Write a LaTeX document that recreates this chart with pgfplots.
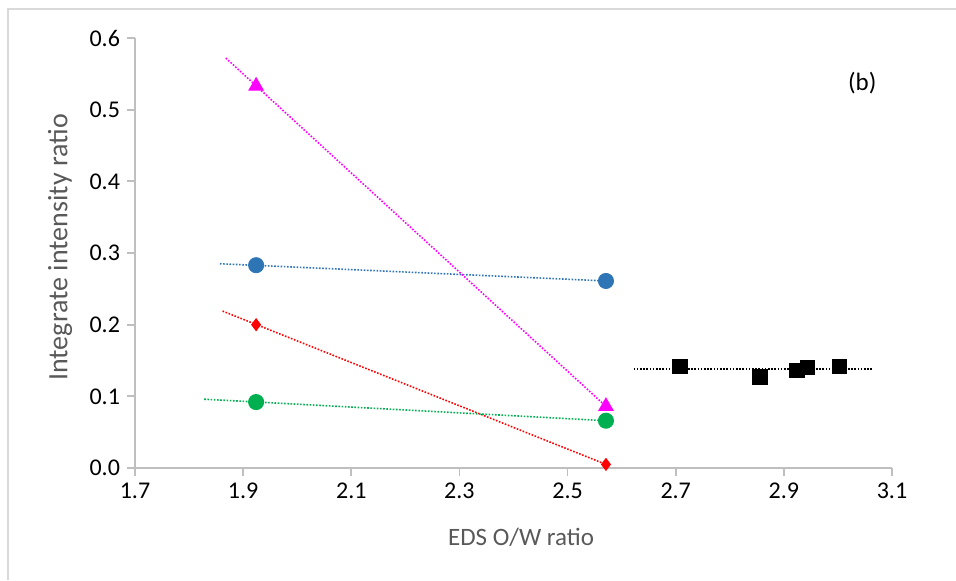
\documentclass[border=0pt]{standalone}
\usepackage{pgfplots}
\pgfplotsset{compat=1.18}
\usepackage{fontspec}
\setmainfont{Carlito}
\definecolor{axgray}{HTML}{BFBFBF}
\definecolor{labgray}{HTML}{595959}
\definecolor{framegray}{HTML}{D9D9D9}
\definecolor{exblue}{HTML}{2E75B6}
\definecolor{exgreen}{HTML}{00B050}
\definecolor{exmag}{HTML}{FF00FF}
\definecolor{exred}{HTML}{FF0000}
\begin{document}
\begin{tikzpicture}
\useasboundingbox (-67.5pt,-56pt) rectangle (410.5pt,234pt);
\draw[framegray, line width=1pt] (-63.5pt,-56pt) -- (-63.5pt,229.5pt) -- (410.5pt,229.5pt);
\begin{axis}[
  at={(0,0)}, anchor=south west,
  scale only axis, width=378.5pt, height=215pt,
  xmin=1.7, xmax=3.1, ymin=0, ymax=0.6,
  axis x line*=bottom, axis y line*=left,
  axis line style={axgray, line width=0.9pt, -},
  xtick={1.7,1.9,2.1,2.3,2.5,2.7,2.9,3.1},
  ytick={0,0.1,0.2,0.3,0.4,0.5,0.6},
  tick style={axgray, line width=0.9pt},
  tick align=outside, major tick length=4pt,
  /pgf/number format/assume math mode=true,
  xticklabel style={/pgf/number format/.cd, fixed, fixed zerofill, precision=1},
  yticklabel style={/pgf/number format/.cd, fixed, fixed zerofill, precision=1},
  ticklabel style={font=\fontsize{12}{14}\selectfont, black},
  xlabel={EDS O/W ratio}, ylabel={Integrate intensity ratio},
  every axis x label/.style={at={(axis description cs:0.51,-0.1605)}, anchor=center, font=\fontsize{12.5}{15}\selectfont, text=labgray},
  every axis y label/.style={at={(axis description cs:-0.099,0.513)}, rotate=90, anchor=center, font=\fontsize{14}{16}\selectfont, text=labgray},
  clip=false,
]
% trendlines
\addplot[exmag, line width=0.8pt, dash pattern=on 0.8pt off 0.8pt] coordinates {(1.868,0.572) (2.571,0.086)};
\addplot[exblue, line width=0.8pt, dash pattern=on 0.8pt off 0.8pt] coordinates {(1.857,0.285) (2.571,0.261)};
\addplot[exred, line width=0.8pt, dash pattern=on 0.8pt off 0.8pt] coordinates {(1.862,0.219) (2.571,0.005)};
\addplot[exgreen, line width=0.8pt, dash pattern=on 0.8pt off 0.8pt] coordinates {(1.828,0.096) (2.571,0.066)};
\addplot[black, line width=0.8pt, dash pattern=on 0.8pt off 0.8pt] coordinates {(2.622,0.138) (3.064,0.138)};
% data
\addplot[only marks, mark=triangle*, mark size=4.2pt, exmag, mark options={fill=exmag}] coordinates {(1.924,0.533) (2.571,0.086)};
\addplot[only marks, mark=*, mark size=3.8pt, exblue, mark options={fill=exblue}] coordinates {(1.924,0.283) (2.571,0.261)};
\addplot[only marks, mark=diamond*, mark size=3pt, exred, mark options={fill=exred}] coordinates {(1.924,0.200) (2.571,0.005)};
\addplot[only marks, mark=*, mark size=3.8pt, exgreen, mark options={fill=exgreen}] coordinates {(1.924,0.092) (2.571,0.066)};
\addplot[only marks, mark=square*, mark size=3.6pt, black] coordinates {(2.708,0.142) (2.856,0.127) (2.924,0.136) (2.943,0.140) (3.003,0.142)};
\node[font=\fontsize{12.5}{15}\selectfont] at (axis cs:3.045,0.537) {(b)};
\end{axis}
\end{tikzpicture}
\end{document}
